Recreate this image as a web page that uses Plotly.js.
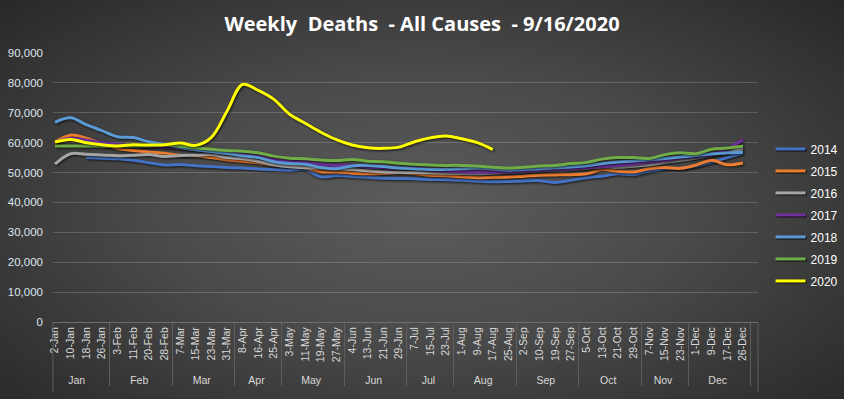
<!DOCTYPE html>
<html>
<head>
<meta charset="utf-8">
<script src="https://cdn.plot.ly/plotly-3.0.1.min.js"></script>
<style>
  html, body { margin: 0; padding: 0; }
  #chart {
    width: 844px; height: 399px;
    background: radial-gradient(ellipse 70% 75% at 50% 52%, #5c5c5c 0%, #4a4a4a 45%, #282828 100%);
  }
  #chart .scatterlayer .js-line { filter: drop-shadow(1px 1.5px 1px rgba(0,0,0,0.75)); }
  #chart .legend .js-line { filter: drop-shadow(1px 1px 0.5px rgba(0,0,0,0.8)); }
</style>
</head>
<body>
<div id="chart"></div>
<script>
// ---- Data ----
const months = ["Jan","Jan","Jan","Jan","Feb","Feb","Feb","Feb","Mar","Mar","Mar","Mar","Apr","Apr","Apr",
  "May","May","May","May","Jun","Jun","Jun","Jun","Jul","Jul","Jul","Aug","Aug","Aug","Aug",
  "Sep","Sep","Sep","Sep","Oct","Oct","Oct","Oct","Nov","Nov","Nov","Dec","Dec","Dec","Dec"];
const dates = ["2-Jan","10-Jan","18-Jan","26-Jan","3-Feb","11-Feb","20-Feb","28-Feb","7-Mar","15-Mar","23-Mar","31-Mar",
  "8-Apr","16-Apr","25-Apr","3-May","11-May","19-May","27-May","4-Jun","13-Jun","21-Jun","29-Jun",
  "7-Jul","15-Jul","23-Jul","1-Aug","9-Aug","17-Aug","25-Aug","2-Sep","10-Sep","19-Sep","27-Sep",
  "5-Oct","13-Oct","21-Oct","29-Oct","7-Nov","15-Nov","23-Nov","1-Dec","9-Dec","17-Dec","26-Dec"];

const y2014 = [null,null,55000,54800,54600,54100,53300,52500,52700,52300,52000,51700,51500,51200,51000,
  50800,51000,48600,49000,48700,48400,48100,48000,47900,47700,47600,47400,47100,46900,47000,
  47200,47300,46700,47400,48300,48800,49600,49300,50500,51300,51500,52200,53500,55000,56500];
const y2015 = [60200,62500,61500,59700,58000,57400,56900,56500,55800,55600,55000,54300,53800,53300,52500,
  52400,51500,50300,50200,49800,49600,49700,49900,49600,49100,48900,48600,48300,48400,48500,
  48800,49100,49200,49300,49600,51000,50400,50200,51300,51700,51400,52500,54100,52600,53200];
const y2016 = [52800,56300,56100,55900,55600,55800,56000,55400,55700,55800,56000,55000,54600,53800,52600,
  51900,51600,51500,51300,51000,50600,50200,50100,50000,49900,49800,49700,49600,49800,50100,
  50300,50600,50800,51000,51400,51900,51800,52100,52600,53400,54100,54900,55800,56900,58000];
const y2017 = [60200,61400,60800,60000,59400,59000,58700,58500,58200,57600,57000,56500,56100,55300,54200,
  53700,53500,52800,52300,52400,51800,51600,51400,51500,50900,50500,50300,50200,50200,50200,
  50500,50800,51000,51300,51600,52000,52400,52900,53500,54100,54900,55400,56000,58000,61000];
const y2018 = [66800,68300,66000,64000,62000,61700,60300,59400,58400,57600,57000,56400,55600,55000,53600,
  53000,52800,51700,51300,52200,52400,52000,51500,51300,51000,51100,51300,51500,51200,50800,
  51000,51300,51600,51900,52300,53000,53500,53900,54200,54700,55200,55700,56300,56600,56800];
const y2019 = [58900,58900,58900,58800,58800,58900,59000,59100,58800,58300,57800,57400,57100,56600,55500,
  54800,54600,54200,54000,54400,53800,53600,53100,52800,52500,52400,52400,52200,51800,51500,
  51800,52200,52400,53000,53400,54500,55000,55000,54700,56000,56600,56300,57800,58200,58800];
const y2020 = [60200,61100,60000,59300,58900,59300,59200,59300,59900,59100,61800,70500,79500,77500,74500,
  69500,66500,63500,61000,59200,58300,58100,58500,60300,61600,62200,61300,60000,57700];

const seriesNames = ["2014","2015","2016","2017","2018","2019","2020"];
const seriesValues = [y2014,y2015,y2016,y2017,y2018,y2019,y2020];
const seriesColors = ["#4472C4","#ED7D31","#A5A5A5","#7030A0","#5B9BD5","#70AD47","#FFFF00"];

// ---- Traces ----
const traces = seriesNames.map((name, i) => ({
  type: "scatter",
  mode: "lines",
  name: name,
  legendgroup: name,
  x: [months.slice(0, seriesValues[i].length), dates.slice(0, seriesValues[i].length)],
  y: seriesValues[i],
  line: { color: seriesColors[i], width: 3, shape: "spline", smoothing: 1 },
  connectgaps: false,
  hoverinfo: "skip"
}));

const layout = {
  width: 844, height: 399,
  paper_bgcolor: "rgba(0,0,0,0)",
  plot_bgcolor: "rgba(0,0,0,0)",
  margin: { l: 53, r: 86, t: 53, b: 77 },
  title: {
    text: "Weekly  Deaths  - All Causes  - 9/16/2020",
    font: { family: "Open Sans", size: 20, color: "#ffffff", weight: 700 },
    x: 0.5, xanchor: "center", y: 0.94, yanchor: "middle", xref: "container", yref: "container"
  },
  font: { family: "Liberation Sans", color: "#d9d9d9" },
  xaxis: {
    type: "multicategory",
    range: [-0.13, 44.96],
    autorange: false,
    tickangle: -90,
    tickfont: { size: 10.5, color: "#d9d9d9", family: "Liberation Sans" },
    showgrid: false,
    showline: true,
    linecolor: "#6e6e6e",
    linewidth: 1,
    ticks: "",
    showdividers: true,
    dividercolor: "#5e5e5e",
    dividerwidth: 1,
    zeroline: false
  },
  yaxis: {
    range: [0, 90000],
    dtick: 10000,
    tickformat: ",",
    tickfont: { size: 11.5, color: "#dde6f0", family: "Liberation Sans" },
    ticklabelstandoff: 9,
    gridcolor: "rgba(255,255,255,0.17)",
    gridwidth: 1,
    zeroline: false,
    showline: false,
    ticks: "",
    fixedrange: true
  },
  shapes: [
    { type: "line", xref: "paper", yref: "paper", x0: 0, x1: 0, y0: 0, y1: -0.26,
      line: { color: "#5e5e5e", width: 1 } },
    { type: "line", xref: "paper", yref: "paper", x0: 1, x1: 1, y0: 0, y1: -0.26,
      line: { color: "#5e5e5e", width: 1 } }
  ],
  legend: {
    xref: "container", yref: "container",
    x: 0.913, y: 0.663, xanchor: "left", yanchor: "top",
    bgcolor: "rgba(0,0,0,0)",
    font: { size: 12, color: "#ffffff", family: "Liberation Sans" },
    tracegroupgap: 3,
    itemwidth: 30
  },
  showlegend: true
};

Plotly.newPlot("chart", traces, layout, { displayModeBar: false, staticPlot: true });
</script>
</body>
</html>
